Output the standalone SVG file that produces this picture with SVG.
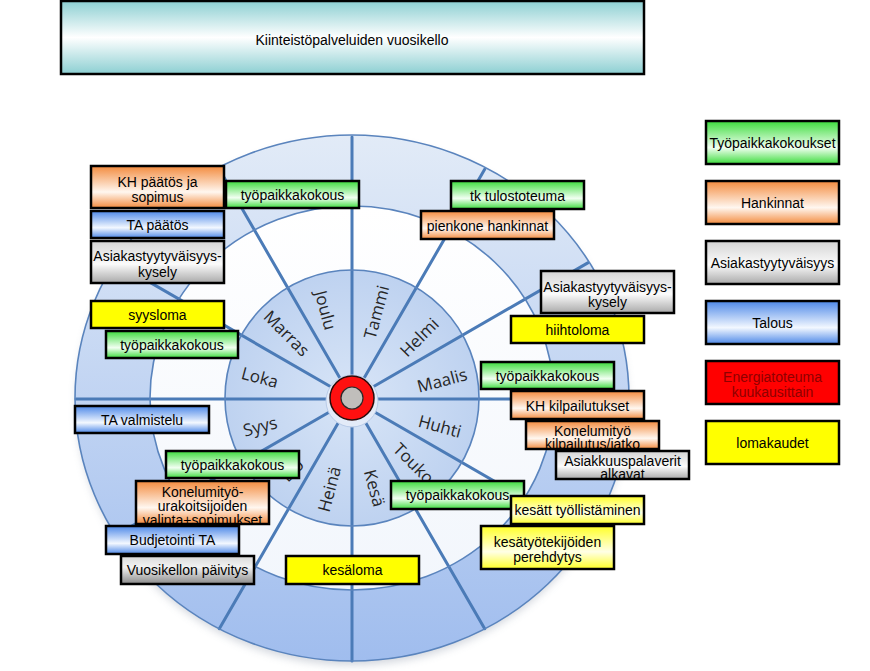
<svg xmlns="http://www.w3.org/2000/svg" width="870" height="671" viewBox="0 0 870 671">
<defs>
<linearGradient id="gT" x1="0" y1="0" x2="0" y2="1"><stop offset="0" stop-color="#8ccfd2"/><stop offset="0.5" stop-color="#ffffff"/><stop offset="1" stop-color="#8ccfd2"/></linearGradient>
<linearGradient id="gG" x1="0" y1="0" x2="0" y2="1"><stop offset="0" stop-color="#3cdc3c"/><stop offset="0.62" stop-color="#f2fff2"/><stop offset="1" stop-color="#3cdc3c"/></linearGradient>
<linearGradient id="gO" x1="0" y1="0" x2="0" y2="1"><stop offset="0" stop-color="#f38b3e"/><stop offset="0.62" stop-color="#fff7f0"/><stop offset="1" stop-color="#f38b3e"/></linearGradient>
<linearGradient id="gB" x1="0" y1="0" x2="0" y2="1"><stop offset="0" stop-color="#4d88e8"/><stop offset="0.62" stop-color="#f3f8ff"/><stop offset="1" stop-color="#4d88e8"/></linearGradient>
<linearGradient id="gS" x1="0" y1="0" x2="0" y2="1"><stop offset="0" stop-color="#d4d4d4"/><stop offset="0.55" stop-color="#fbfbfb"/><stop offset="1" stop-color="#a9a9a9"/></linearGradient>
<linearGradient id="gS2" x1="0" y1="0" x2="0" y2="1"><stop offset="0" stop-color="#dadada"/><stop offset="0.4" stop-color="#f2f2f2"/><stop offset="1" stop-color="#8a8a8a"/></linearGradient>
<linearGradient id="gY" x1="0" y1="0" x2="0" y2="1"><stop offset="0" stop-color="#ffff26"/><stop offset="0.6" stop-color="#ffffe6"/><stop offset="1" stop-color="#ffff26"/></linearGradient>
<linearGradient id="band" x1="0" y1="0" x2="0" y2="1"><stop offset="0" stop-color="#e2ebf7"/><stop offset="1" stop-color="#a0bdee"/></linearGradient>
<linearGradient id="mid" x1="0" y1="0" x2="0" y2="1"><stop offset="0" stop-color="#ffffff"/><stop offset="1" stop-color="#f2f6fc"/></linearGradient>
<radialGradient id="disk"><stop offset="0" stop-color="#d8e5f7"/><stop offset="1" stop-color="#bed2f0"/></radialGradient>
<filter id="sh" x="-10%" y="-10%" width="120%" height="130%"><feGaussianBlur stdDeviation="4"/></filter>
<clipPath id="c13"><rect x="527" y="422" width="131" height="26"/></clipPath>
<clipPath id="c14"><rect x="557" y="452" width="131" height="26"/></clipPath>
<clipPath id="c20"><rect x="137" y="482" width="131" height="41"/></clipPath>
</defs>
<style>
.box{stroke:#000;stroke-width:2.5}
.t{font-family:"Liberation Sans",Arial,sans-serif;font-size:14px;text-anchor:middle;fill:#000}
.m{font-family:"Open Sans","Noto Sans",sans-serif;font-size:17px;text-anchor:middle;dominant-baseline:central;fill:#262626}
.sp{stroke:#4b7bb7;stroke-width:3;stroke-linecap:round}
.ring{fill:none;stroke:#5a84bd;stroke-width:1.6}
</style>
<rect width="870" height="671" fill="#ffffff"/>

<g id="title">
<rect class="box" x="61" y="1" width="583" height="73" fill="url(#gT)"/>
<text class="t" x="352" y="45">Kiinteistöpalveluiden vuosikello</text>
</g>

<g id="wheel">
<ellipse cx="352" cy="403" rx="275" ry="262" fill="#9aa3b3" opacity="0.45" filter="url(#sh)"/>
<ellipse cx="352" cy="398" rx="277" ry="263" fill="url(#band)"/>
<ellipse cx="352" cy="398" rx="202" ry="192" fill="url(#mid)"/>
<ellipse cx="352" cy="398" rx="127" ry="128" fill="url(#disk)"/>
<g id="spokes">
<line class="sp" x1="352" y1="399" x2="352" y2="137"/>
<line class="sp" x1="352" y1="399" x2="484.7" y2="169.3"/>
<line class="sp" x1="352" y1="399" x2="587.8" y2="262.9"/>
<line class="sp" x1="352" y1="399" x2="628" y2="399"/>
<line class="sp" x1="352" y1="399" x2="587.8" y2="535.1"/>
<line class="sp" x1="352" y1="399" x2="484.7" y2="628.7"/>
<line class="sp" x1="352" y1="399" x2="352" y2="661"/>
<line class="sp" x1="352" y1="399" x2="219.3" y2="628.7"/>
<line class="sp" x1="352" y1="399" x2="116.2" y2="535.1"/>
<line class="sp" x1="352" y1="399" x2="76" y2="399"/>
<line class="sp" x1="352" y1="399" x2="116.2" y2="262.9"/>
<line class="sp" x1="352" y1="399" x2="219.3" y2="169.3"/>
</g>
<ellipse class="ring" cx="352" cy="398" rx="277" ry="263"/>
<ellipse class="ring" cx="352" cy="398" rx="202" ry="192"/>
<ellipse class="ring" cx="352" cy="398" rx="127" ry="128"/>
<g id="months">
<text class="m" transform="translate(376,312) rotate(-75)">Tammi</text>
<text class="m" transform="translate(419,337) rotate(-45)">Helmi</text>
<text class="m" transform="translate(442,380) rotate(-15)">Maalis</text>
<text class="m" transform="translate(440,426) rotate(15)">Huhti</text>
<text class="m" transform="translate(414,463) rotate(45)">Touko</text>
<text class="m" transform="translate(375,488) rotate(75)">Kesä</text>
<text class="m" transform="translate(329,489) rotate(-75)">Heinä</text>
<text class="m" transform="translate(292,470) rotate(-45)">Elo</text>
<text class="m" transform="translate(260,426) rotate(-15)">Syys</text>
<text class="m" transform="translate(260,377) rotate(15)">Loka</text>
<text class="m" transform="translate(287,333) rotate(45)">Marras</text>
<text class="m" transform="translate(326,310) rotate(75)">Joulu</text>
</g>
<circle cx="352" cy="401" r="26" fill="#e3ebf8" stroke="#b8cbe8" stroke-width="1"/>
<circle cx="352" cy="398" r="22" fill="#ff1010" stroke="#2a0a0a" stroke-width="1.5"/>
<circle cx="352" cy="398" r="11" fill="#c0bebb" stroke="#2a2a2a" stroke-width="1.2"/>
</g>

<g id="connectors"></g>

<g id="n-kh-paatos"><rect class="box" x="91" y="166" width="133" height="42" fill="url(#gO)"/><text class="t"><tspan x="157.5" y="186.5">KH päätös ja</tspan><tspan x="157.5" y="202">sopimus</tspan></text></g>
<g id="n-tpk-joulu"><rect class="box" x="226" y="181" width="133" height="27" fill="url(#gG)"/><text class="t" x="292.5" y="200">työpaikkakokous</text></g>
<g id="n-ta-paatos"><rect class="box" x="91" y="211" width="133" height="27" fill="url(#gB)"/><text class="t" x="157.5" y="230">TA päätös</text></g>
<g id="n-asiak-left"><rect class="box" x="91" y="241" width="133" height="42" fill="url(#gS)"/><text class="t"><tspan x="157.5" y="261">Asiakastyytyväisyys-</tspan><tspan x="157.5" y="276.5">kysely</tspan></text></g>
<g id="n-syysloma"><rect class="box" x="91" y="301" width="133" height="27" fill="#ffff00"/><text class="t" x="157.5" y="320">syysloma</text></g>
<g id="n-tpk-loka"><rect class="box" x="106" y="331" width="132" height="27" fill="url(#gG)"/><text class="t" x="172" y="350">työpaikkakokous</text></g>

<g id="n-tk-tulos"><rect class="box" x="451" y="181" width="133" height="28" fill="url(#gG)"/><text class="t" x="517.5" y="200.5">tk tulostoteuma</text></g>
<g id="n-pienkone"><rect class="box" x="421" y="211" width="133" height="28" fill="url(#gO)"/><text class="t" x="487.5" y="230.5">pienkone hankinnat</text></g>
<g id="n-asiak-right"><rect class="box" x="541" y="271" width="133" height="42" fill="url(#gS)"/><text class="t"><tspan x="607.5" y="291.5">Asiakastyytyväisyys-</tspan><tspan x="607.5" y="307">kysely</tspan></text></g>
<g id="n-hiihtoloma"><rect class="box" x="511" y="316" width="133" height="27" fill="#ffff00"/><text class="t" x="577.5" y="335">hiihtoloma</text></g>
<g id="n-tpk-maalis"><rect class="box" x="481" y="362" width="133" height="27" fill="url(#gG)"/><text class="t" x="547.5" y="381">työpaikkakokous</text></g>
<g id="n-kh-kilp"><rect class="box" x="511" y="391" width="133" height="28" fill="url(#gO)"/><text class="t" x="577.5" y="410.5">KH kilpailutukset</text></g>
<g id="n-konelumi-kilp"><rect class="box" x="526" y="421" width="133" height="28" fill="url(#gO)"/><g clip-path="url(#c13)"><text class="t"><tspan x="592.5" y="435.5">Konelumityö</tspan><tspan x="592.5" y="449">kilpailutus/jatko</tspan></text></g></g>
<g id="n-asiakkuus"><rect class="box" x="556" y="451" width="133" height="28" fill="url(#gS)"/><g clip-path="url(#c14)"><text class="t"><tspan x="622.5" y="465.5">Asiakkuuspalaverit</tspan><tspan x="622.5" y="479">alkavat</tspan></text></g></g>
<g id="n-tpk-touko"><rect class="box" x="391" y="481" width="133" height="28" fill="url(#gG)"/><text class="t" x="457.5" y="500">työpaikkakokous</text></g>
<g id="n-kesatt"><rect class="box" x="511" y="496" width="133" height="28" fill="url(#gY)"/><text class="t" x="577.5" y="515">kesätt työllistäminen</text></g>
<g id="n-kesatyo"><rect class="box" x="481" y="526" width="133" height="43" fill="url(#gY)"/><text class="t"><tspan x="547.5" y="546.5">kesätyötekijöiden</tspan><tspan x="547.5" y="562">perehdytys</tspan></text></g>

<g id="n-ta-valm"><rect class="box" x="75" y="406" width="134" height="27" fill="url(#gB)"/><text class="t" x="142" y="425">TA valmistelu</text></g>
<g id="n-tpk-elo"><rect class="box" x="166" y="451" width="133" height="27" fill="url(#gG)"/><text class="t" x="232.5" y="470">työpaikkakokous</text></g>
<g id="n-konelumi-urak"><rect class="box" x="136" y="481" width="133" height="43" fill="url(#gO)"/><g clip-path="url(#c20)"><text class="t"><tspan x="202.5" y="496.5">Konelumityö-</tspan><tspan x="202.5" y="510.5">urakoitsijoiden</tspan><tspan x="202.5" y="524.5">valinta+sopimukset</tspan></text></g></g>
<g id="n-budjetointi"><rect class="box" x="106" y="526" width="133" height="28" fill="url(#gB)"/><text class="t" x="172.5" y="545">Budjetointi TA</text></g>
<g id="n-vuosikello"><rect class="box" x="121" y="556" width="133" height="28" fill="url(#gS2)"/><text class="t" x="187.5" y="575">Vuosikellon päivitys</text></g>
<g id="n-kesaloma"><rect class="box" x="286" y="556" width="133" height="28" fill="#ffff00"/><text class="t" x="352.5" y="575">kesäloma</text></g>

<g id="legend">
<g id="l-tpk"><rect class="box" x="706" y="121" width="133" height="43" fill="url(#gG)"/><text class="t" x="772.5" y="147.5">Työpaikkakokoukset</text></g>
<g id="l-hank"><rect class="box" x="706" y="181" width="133" height="43" fill="url(#gO)"/><text class="t" x="772.5" y="207.5">Hankinnat</text></g>
<g id="l-asiak"><rect class="box" x="706" y="241" width="133" height="43" fill="url(#gS)"/><text class="t" x="772.5" y="267.5">Asiakastyytyväisyys</text></g>
<g id="l-talous"><rect class="box" x="706" y="301" width="133" height="43" fill="url(#gB)"/><text class="t" x="772.5" y="327.5">Talous</text></g>
<g id="l-energia"><rect class="box" x="706" y="361" width="133" height="43" fill="#ff0000"/><text class="t" style="fill:#8e0000"><tspan x="772.5" y="381.5">Energiatoteuma</tspan><tspan x="772.5" y="397">kuukausittain</tspan></text></g>
<g id="l-loma"><rect class="box" x="706" y="421" width="133" height="43" fill="#ffff00"/><text class="t" x="772.5" y="447.5">lomakaudet</text></g>
</g>
</svg>
